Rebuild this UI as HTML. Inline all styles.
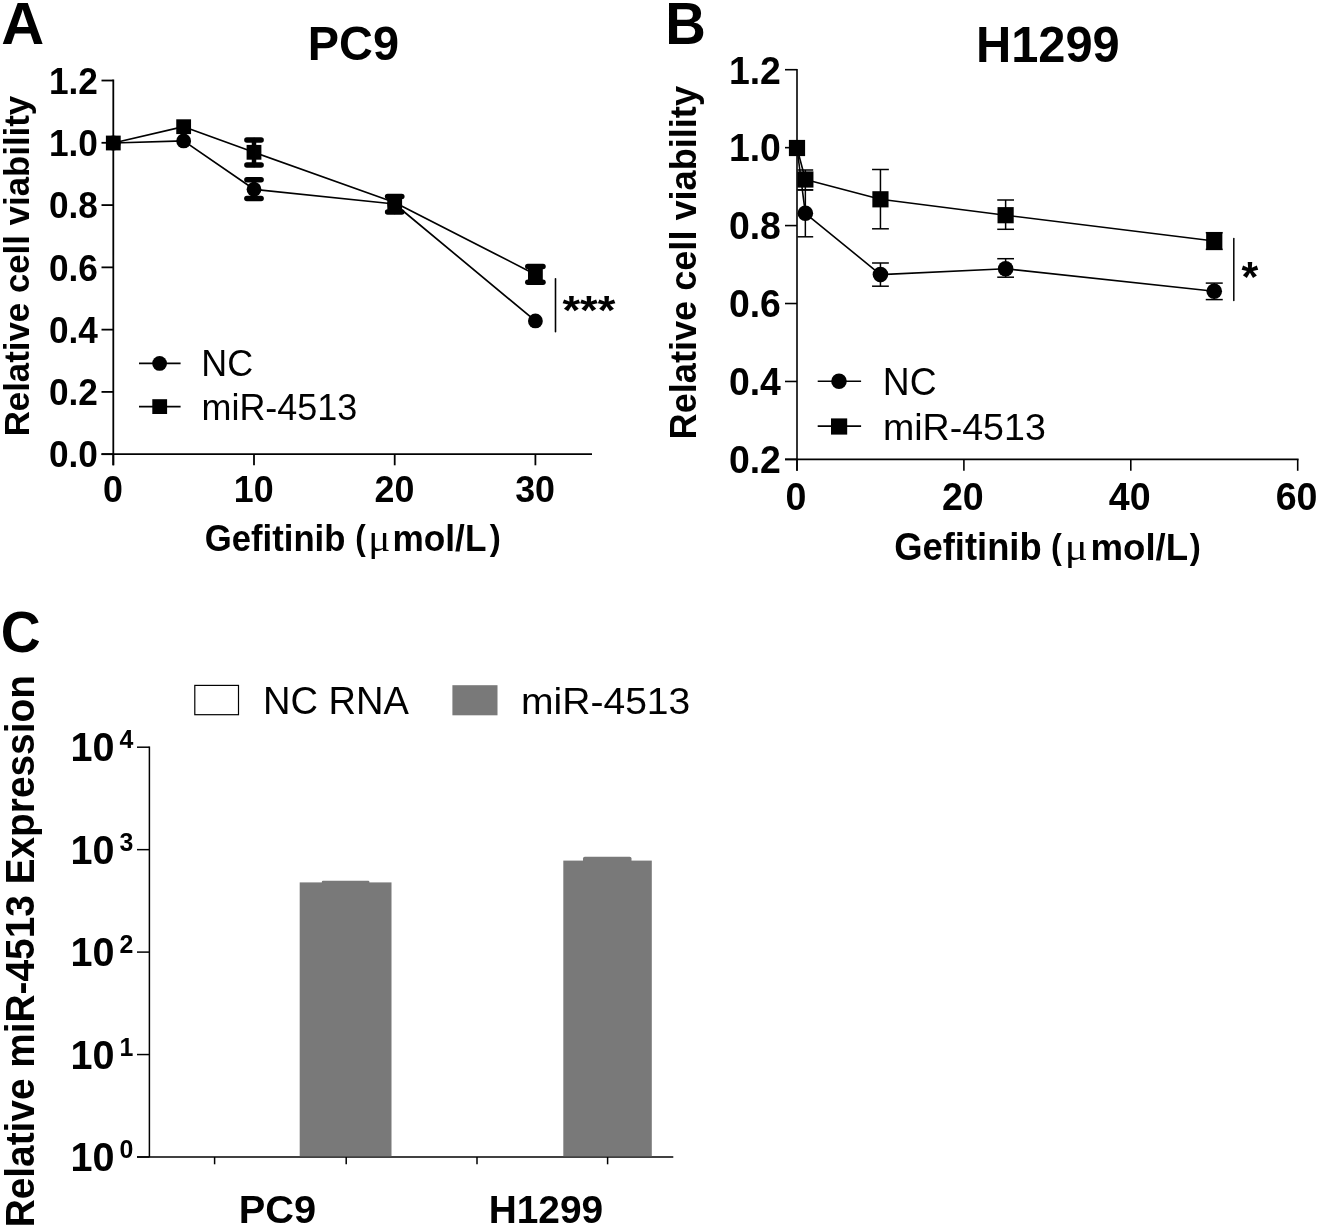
<!DOCTYPE html>
<html lang="en">
<head>
<meta charset="utf-8">
<title>miR-4513 gefitinib figure</title>
<style>
html,body{margin:0;padding:0;background:#fff;}
body{width:1320px;height:1228px;overflow:hidden;font-family:"Liberation Sans", sans-serif;}
svg{display:block;will-change:transform;opacity:0.999;}
svg text{font-family:"Liberation Sans", sans-serif;fill:#000;}
</style>
</head>
<body>
<svg width="1320" height="1228" viewBox="0 0 1320 1228">
<!-- Panel A -->
<text transform="translate(1.21,43.8) scale(1,1.01)" font-size="59.5" font-weight="bold" text-anchor="start" >A</text>
<text transform="translate(353.4,60.2) scale(1,1.035)" font-size="46.9" font-weight="bold" text-anchor="middle" >PC9</text>
<line x1="113.30" y1="79.62" x2="113.30" y2="465.30" stroke="#000" stroke-width="1.8" stroke-linecap="butt"/>
<line x1="101.50" y1="454.20" x2="592.00" y2="454.20" stroke="#000" stroke-width="1.8" stroke-linecap="butt"/>
<line x1="101.50" y1="454.20" x2="113.30" y2="454.20" stroke="#000" stroke-width="1.8" stroke-linecap="butt"/>
<text transform="translate(49.0,467.4) scale(1,1.05)" font-size="35.2" font-weight="bold" text-anchor="start" >0.0</text>
<line x1="101.50" y1="391.92" x2="113.30" y2="391.92" stroke="#000" stroke-width="1.8" stroke-linecap="butt"/>
<text transform="translate(49.0,405.12) scale(1,1.05)" font-size="35.2" font-weight="bold" text-anchor="start" >0.2</text>
<line x1="101.50" y1="329.64" x2="113.30" y2="329.64" stroke="#000" stroke-width="1.8" stroke-linecap="butt"/>
<text transform="translate(49.0,342.84) scale(1,1.05)" font-size="35.2" font-weight="bold" text-anchor="start" >0.4</text>
<line x1="101.50" y1="267.36" x2="113.30" y2="267.36" stroke="#000" stroke-width="1.8" stroke-linecap="butt"/>
<text transform="translate(49.0,280.56) scale(1,1.05)" font-size="35.2" font-weight="bold" text-anchor="start" >0.6</text>
<line x1="101.50" y1="205.08" x2="113.30" y2="205.08" stroke="#000" stroke-width="1.8" stroke-linecap="butt"/>
<text transform="translate(49.0,218.28) scale(1,1.05)" font-size="35.2" font-weight="bold" text-anchor="start" >0.8</text>
<line x1="101.50" y1="142.80" x2="113.30" y2="142.80" stroke="#000" stroke-width="1.8" stroke-linecap="butt"/>
<text transform="translate(49.0,156.0) scale(1,1.05)" font-size="35.2" font-weight="bold" text-anchor="start" >1.0</text>
<line x1="101.50" y1="80.52" x2="113.30" y2="80.52" stroke="#000" stroke-width="1.8" stroke-linecap="butt"/>
<text transform="translate(49.0,93.72) scale(1,1.05)" font-size="35.2" font-weight="bold" text-anchor="start" >1.2</text>
<line x1="113.30" y1="454.20" x2="113.30" y2="465.30" stroke="#000" stroke-width="1.8" stroke-linecap="butt"/>
<text transform="translate(113.0,502.0) scale(1,1.03)" font-size="35.8" font-weight="bold" text-anchor="middle" >0</text>
<line x1="254.00" y1="454.20" x2="254.00" y2="465.30" stroke="#000" stroke-width="1.8" stroke-linecap="butt"/>
<text transform="translate(253.7,502.0) scale(1,1.03)" font-size="35.8" font-weight="bold" text-anchor="middle" >10</text>
<line x1="394.70" y1="454.20" x2="394.70" y2="465.30" stroke="#000" stroke-width="1.8" stroke-linecap="butt"/>
<text transform="translate(394.4,502.0) scale(1,1.03)" font-size="35.8" font-weight="bold" text-anchor="middle" >20</text>
<line x1="535.40" y1="454.20" x2="535.40" y2="465.30" stroke="#000" stroke-width="1.8" stroke-linecap="butt"/>
<text transform="translate(535.1,502.0) scale(1,1.03)" font-size="35.8" font-weight="bold" text-anchor="middle" >30</text>
<text transform="translate(204.81,550.82) scale(1,1.084)" font-size="34.69" font-weight="bold">Gefitinib</text>
<text transform="translate(355.33,550.33) scale(1,1.117)" font-size="31.43" font-weight="bold">(</text>
<text transform="translate(368.3,550.6) scale(1,0.902)" font-size="41.19" font-weight="normal" style="font-family:'Liberation Serif',serif">μ</text>
<text transform="translate(392.54,550.6) scale(1,1.03)" font-size="35.21" font-weight="bold">mol/L</text>
<text transform="translate(489.8,550.33) scale(1,1.057)" font-size="33.21" font-weight="bold">)</text>
<text transform="translate(29.0,436.3) rotate(-90) scale(1,1.027)" font-size="34.82" font-weight="bold" text-anchor="start" >Relative cell viability</text>
<polyline points="113.30,143.00 183.65,140.90 254.00,189.30 394.70,204.00 535.40,320.90" fill="none" stroke="#000" stroke-width="1.7" stroke-linejoin="round"/>
<polyline points="113.30,143.00 183.65,126.70 254.00,152.30 394.70,202.50 535.40,274.40" fill="none" stroke="#000" stroke-width="1.7" stroke-linejoin="round"/>
<line x1="254.00" y1="179.80" x2="254.00" y2="198.50" stroke="#000" stroke-width="4.5" stroke-linecap="round"/>
<line x1="246.90" y1="179.80" x2="261.10" y2="179.80" stroke="#000" stroke-width="5.5" stroke-linecap="round"/>
<line x1="246.90" y1="198.50" x2="261.10" y2="198.50" stroke="#000" stroke-width="5.5" stroke-linecap="round"/>
<line x1="254.00" y1="139.90" x2="254.00" y2="165.10" stroke="#000" stroke-width="4.5" stroke-linecap="round"/>
<line x1="246.90" y1="139.90" x2="261.10" y2="139.90" stroke="#000" stroke-width="5.5" stroke-linecap="round"/>
<line x1="246.90" y1="165.10" x2="261.10" y2="165.10" stroke="#000" stroke-width="5.5" stroke-linecap="round"/>
<line x1="394.70" y1="196.40" x2="394.70" y2="211.90" stroke="#000" stroke-width="4.5" stroke-linecap="round"/>
<line x1="387.60" y1="196.40" x2="401.80" y2="196.40" stroke="#000" stroke-width="5.5" stroke-linecap="round"/>
<line x1="387.60" y1="211.90" x2="401.80" y2="211.90" stroke="#000" stroke-width="5.5" stroke-linecap="round"/>
<line x1="535.40" y1="266.60" x2="535.40" y2="282.20" stroke="#000" stroke-width="4.5" stroke-linecap="round"/>
<line x1="527.80" y1="266.60" x2="543.00" y2="266.60" stroke="#000" stroke-width="5.5" stroke-linecap="round"/>
<line x1="527.80" y1="282.20" x2="543.00" y2="282.20" stroke="#000" stroke-width="5.5" stroke-linecap="round"/>
<circle cx="113.30" cy="143.00" r="7.4" fill="#000"/>
<circle cx="183.65" cy="140.90" r="7.4" fill="#000"/>
<circle cx="254.00" cy="189.30" r="7.4" fill="#000"/>
<circle cx="394.70" cy="204.00" r="7.4" fill="#000"/>
<circle cx="535.40" cy="320.90" r="7.4" fill="#000"/>
<rect x="105.90" y="135.60" width="14.8" height="14.8" fill="#000"/>
<rect x="176.25" y="119.30" width="14.8" height="14.8" fill="#000"/>
<rect x="246.60" y="144.90" width="14.8" height="14.8" fill="#000"/>
<rect x="387.30" y="195.10" width="14.8" height="14.8" fill="#000"/>
<rect x="528.00" y="267.00" width="14.8" height="14.8" fill="#000"/>
<line x1="555.50" y1="278.80" x2="555.50" y2="331.80" stroke="#000" stroke-width="1.6" stroke-linecap="round"/>
<text transform="translate(562.4,324.3) scale(1,0.88)" font-size="45.43" font-weight="bold" text-anchor="start" >***</text>
<line x1="139.00" y1="363.40" x2="180.60" y2="363.40" stroke="#000" stroke-width="1.7" stroke-linecap="butt"/>
<circle cx="159.60" cy="363.40" r="7.4" fill="#000"/>
<line x1="139.00" y1="406.60" x2="180.60" y2="406.60" stroke="#000" stroke-width="1.7" stroke-linecap="butt"/>
<rect x="152.30" y="399.20" width="14.8" height="14.8" fill="#000"/>
<text transform="translate(201.3,376.2) scale(1,1.035)" font-size="35.9" font-weight="normal" text-anchor="start" >NC</text>
<text transform="translate(201.5,419.8) scale(1,1.045)" font-size="35.95" font-weight="normal" text-anchor="start" >miR-4513</text>
<!-- Panel B -->
<text transform="translate(665.16,43.6) scale(1,1.046)" font-size="56.23" font-weight="bold" text-anchor="start" >B</text>
<text transform="translate(1047.8,62.4) scale(1,1.03)" font-size="48.8" font-weight="bold" text-anchor="middle" >H1299</text>
<line x1="797.00" y1="68.90" x2="797.00" y2="470.80" stroke="#000" stroke-width="1.6" stroke-linecap="butt"/>
<line x1="785.00" y1="459.40" x2="1298.60" y2="459.40" stroke="#000" stroke-width="1.6" stroke-linecap="butt"/>
<line x1="785.00" y1="459.40" x2="797.00" y2="459.40" stroke="#000" stroke-width="1.6" stroke-linecap="butt"/>
<text transform="translate(728.9,473.2) scale(1,1.04)" font-size="37.4" font-weight="bold" text-anchor="start" >0.2</text>
<line x1="785.00" y1="381.46" x2="797.00" y2="381.46" stroke="#000" stroke-width="1.6" stroke-linecap="butt"/>
<text transform="translate(728.9,395.26) scale(1,1.04)" font-size="37.4" font-weight="bold" text-anchor="start" >0.4</text>
<line x1="785.00" y1="303.52" x2="797.00" y2="303.52" stroke="#000" stroke-width="1.6" stroke-linecap="butt"/>
<text transform="translate(728.9,317.32) scale(1,1.04)" font-size="37.4" font-weight="bold" text-anchor="start" >0.6</text>
<line x1="785.00" y1="225.58" x2="797.00" y2="225.58" stroke="#000" stroke-width="1.6" stroke-linecap="butt"/>
<text transform="translate(728.9,239.38) scale(1,1.04)" font-size="37.4" font-weight="bold" text-anchor="start" >0.8</text>
<line x1="785.00" y1="147.64" x2="797.00" y2="147.64" stroke="#000" stroke-width="1.6" stroke-linecap="butt"/>
<text transform="translate(728.9,161.44) scale(1,1.04)" font-size="37.4" font-weight="bold" text-anchor="start" >1.0</text>
<line x1="785.00" y1="69.70" x2="797.00" y2="69.70" stroke="#000" stroke-width="1.6" stroke-linecap="butt"/>
<text transform="translate(728.9,83.5) scale(1,1.04)" font-size="37.4" font-weight="bold" text-anchor="start" >1.2</text>
<line x1="797.00" y1="459.40" x2="797.00" y2="470.80" stroke="#000" stroke-width="1.6" stroke-linecap="butt"/>
<text transform="translate(795.9,509.5) scale(1,1.035)" font-size="37.6" font-weight="bold" text-anchor="middle" >0</text>
<line x1="963.90" y1="459.40" x2="963.90" y2="470.80" stroke="#000" stroke-width="1.6" stroke-linecap="butt"/>
<text transform="translate(962.8,509.5) scale(1,1.035)" font-size="37.6" font-weight="bold" text-anchor="middle" >20</text>
<line x1="1130.80" y1="459.40" x2="1130.80" y2="470.80" stroke="#000" stroke-width="1.6" stroke-linecap="butt"/>
<text transform="translate(1129.7,509.5) scale(1,1.035)" font-size="37.6" font-weight="bold" text-anchor="middle" >40</text>
<line x1="1297.70" y1="459.40" x2="1297.70" y2="470.80" stroke="#000" stroke-width="1.6" stroke-linecap="butt"/>
<text transform="translate(1296.6,509.5) scale(1,1.035)" font-size="37.6" font-weight="bold" text-anchor="middle" >60</text>
<text transform="translate(894.25,560.2) scale(1,1.089)" font-size="36.35" font-weight="bold">Gefitinib</text>
<text transform="translate(1050.88,559.45) scale(1,1.106)" font-size="32.5" font-weight="bold">(</text>
<text transform="translate(1064.77,559.8) scale(1,0.878)" font-size="42.86" font-weight="normal" style="font-family:'Liberation Serif',serif">μ</text>
<text transform="translate(1090.43,559.8) scale(1,1.02)" font-size="36.65" font-weight="bold">mol/L</text>
<text transform="translate(1189.8,559.45) scale(1,1.083)" font-size="33.21" font-weight="bold">)</text>
<text transform="translate(696.1,439.4) rotate(-90) scale(1,1.02)" font-size="36.13" font-weight="bold" text-anchor="start" >Relative cell viability</text>
<polyline points="797.00,148.00 805.35,213.30 880.45,274.60 1005.62,268.80 1214.25,291.30" fill="none" stroke="#000" stroke-width="1.6" stroke-linejoin="round"/>
<polyline points="797.00,148.00 805.35,179.50 880.45,199.30 1005.62,215.20 1214.25,241.00" fill="none" stroke="#000" stroke-width="1.6" stroke-linejoin="round"/>
<line x1="805.35" y1="189.80" x2="805.35" y2="236.80" stroke="#000" stroke-width="1.5" stroke-linecap="butt"/>
<line x1="797.50" y1="189.80" x2="813.20" y2="189.80" stroke="#000" stroke-width="1.5" stroke-linecap="butt"/>
<line x1="797.50" y1="236.80" x2="813.20" y2="236.80" stroke="#000" stroke-width="1.5" stroke-linecap="butt"/>
<line x1="880.45" y1="263.00" x2="880.45" y2="286.20" stroke="#000" stroke-width="1.5" stroke-linecap="butt"/>
<line x1="872.05" y1="263.00" x2="888.85" y2="263.00" stroke="#000" stroke-width="1.5" stroke-linecap="butt"/>
<line x1="872.05" y1="286.20" x2="888.85" y2="286.20" stroke="#000" stroke-width="1.5" stroke-linecap="butt"/>
<line x1="1005.62" y1="258.70" x2="1005.62" y2="277.20" stroke="#000" stroke-width="1.5" stroke-linecap="butt"/>
<line x1="997.23" y1="258.70" x2="1014.02" y2="258.70" stroke="#000" stroke-width="1.5" stroke-linecap="butt"/>
<line x1="997.23" y1="277.20" x2="1014.02" y2="277.20" stroke="#000" stroke-width="1.5" stroke-linecap="butt"/>
<line x1="1214.25" y1="283.10" x2="1214.25" y2="299.60" stroke="#000" stroke-width="1.5" stroke-linecap="butt"/>
<line x1="1205.75" y1="283.10" x2="1222.75" y2="283.10" stroke="#000" stroke-width="1.5" stroke-linecap="butt"/>
<line x1="1205.75" y1="299.60" x2="1222.75" y2="299.60" stroke="#000" stroke-width="1.5" stroke-linecap="butt"/>
<line x1="805.35" y1="170.00" x2="805.35" y2="190.00" stroke="#000" stroke-width="1.5" stroke-linecap="butt"/>
<line x1="797.50" y1="170.00" x2="813.20" y2="170.00" stroke="#000" stroke-width="1.5" stroke-linecap="butt"/>
<line x1="797.50" y1="190.00" x2="813.20" y2="190.00" stroke="#000" stroke-width="1.5" stroke-linecap="butt"/>
<line x1="880.45" y1="169.50" x2="880.45" y2="228.80" stroke="#000" stroke-width="1.5" stroke-linecap="butt"/>
<line x1="872.05" y1="169.50" x2="888.85" y2="169.50" stroke="#000" stroke-width="1.5" stroke-linecap="butt"/>
<line x1="872.05" y1="228.80" x2="888.85" y2="228.80" stroke="#000" stroke-width="1.5" stroke-linecap="butt"/>
<line x1="1005.62" y1="200.00" x2="1005.62" y2="229.30" stroke="#000" stroke-width="1.5" stroke-linecap="butt"/>
<line x1="997.23" y1="200.00" x2="1014.02" y2="200.00" stroke="#000" stroke-width="1.5" stroke-linecap="butt"/>
<line x1="997.23" y1="229.30" x2="1014.02" y2="229.30" stroke="#000" stroke-width="1.5" stroke-linecap="butt"/>
<line x1="1214.25" y1="232.70" x2="1214.25" y2="249.40" stroke="#000" stroke-width="1.5" stroke-linecap="butt"/>
<line x1="1205.75" y1="232.70" x2="1222.75" y2="232.70" stroke="#000" stroke-width="1.5" stroke-linecap="butt"/>
<line x1="1205.75" y1="249.40" x2="1222.75" y2="249.40" stroke="#000" stroke-width="1.5" stroke-linecap="butt"/>
<circle cx="797.00" cy="148.00" r="7.8" fill="#000"/>
<circle cx="805.35" cy="213.30" r="7.8" fill="#000"/>
<circle cx="880.45" cy="274.60" r="7.8" fill="#000"/>
<circle cx="1005.62" cy="268.80" r="7.8" fill="#000"/>
<circle cx="1214.25" cy="291.30" r="7.8" fill="#000"/>
<rect x="788.90" y="139.90" width="16.2" height="16.2" fill="#000"/>
<rect x="797.25" y="171.40" width="16.2" height="16.2" fill="#000"/>
<rect x="872.35" y="191.20" width="16.2" height="16.2" fill="#000"/>
<rect x="997.52" y="207.10" width="16.2" height="16.2" fill="#000"/>
<rect x="1206.15" y="232.90" width="16.2" height="16.2" fill="#000"/>
<line x1="1233.80" y1="238.50" x2="1233.80" y2="300.60" stroke="#000" stroke-width="1.5" stroke-linecap="round"/>
<text transform="translate(1241.4,291.08) scale(1,0.985)" font-size="43.08" font-weight="bold" text-anchor="start" >*</text>
<line x1="817.70" y1="381.20" x2="861.10" y2="381.20" stroke="#000" stroke-width="1.6" stroke-linecap="butt"/>
<circle cx="839.00" cy="381.20" r="7.8" fill="#000"/>
<line x1="817.70" y1="426.10" x2="861.10" y2="426.10" stroke="#000" stroke-width="1.6" stroke-linecap="butt"/>
<rect x="831.00" y="418.40" width="16.2" height="16.2" fill="#000"/>
<text transform="translate(882.8,395.3) scale(1,1.04)" font-size="37.2" font-weight="normal" text-anchor="start" >NC</text>
<text transform="translate(883.0,439.9)" font-size="37.56" font-weight="normal" text-anchor="start" >miR-4513</text>
<!-- Panel C -->
<text transform="translate(0.69,651.5) scale(1,1.04)" font-size="55.23" font-weight="bold" text-anchor="start" >C</text>
<line x1="149.40" y1="746.45" x2="149.40" y2="1157.00" stroke="#000" stroke-width="1.5" stroke-linecap="butt"/>
<line x1="137.00" y1="1157.00" x2="673.30" y2="1157.00" stroke="#000" stroke-width="1.5" stroke-linecap="butt"/>
<line x1="137.00" y1="1157.00" x2="149.40" y2="1157.00" stroke="#000" stroke-width="1.5" stroke-linecap="butt"/>
<text transform="translate(70.5,1171.0) scale(1,1.01)" font-size="39.6" font-weight="bold" text-anchor="start" >10</text>
<text transform="translate(126.5,1158.2) scale(1,1.036)" font-size="24.9" font-weight="bold" text-anchor="middle" >0</text>
<line x1="137.00" y1="1054.55" x2="149.40" y2="1054.55" stroke="#000" stroke-width="1.5" stroke-linecap="butt"/>
<text transform="translate(70.5,1068.55) scale(1,1.01)" font-size="39.6" font-weight="bold" text-anchor="start" >10</text>
<text transform="translate(126.5,1055.75) scale(1,1.036)" font-size="24.9" font-weight="bold" text-anchor="middle" >1</text>
<line x1="137.00" y1="952.10" x2="149.40" y2="952.10" stroke="#000" stroke-width="1.5" stroke-linecap="butt"/>
<text transform="translate(70.5,966.1) scale(1,1.01)" font-size="39.6" font-weight="bold" text-anchor="start" >10</text>
<text transform="translate(126.5,953.3) scale(1,1.036)" font-size="24.9" font-weight="bold" text-anchor="middle" >2</text>
<line x1="137.00" y1="849.65" x2="149.40" y2="849.65" stroke="#000" stroke-width="1.5" stroke-linecap="butt"/>
<text transform="translate(70.5,863.65) scale(1,1.01)" font-size="39.6" font-weight="bold" text-anchor="start" >10</text>
<text transform="translate(126.5,850.85) scale(1,1.036)" font-size="24.9" font-weight="bold" text-anchor="middle" >3</text>
<line x1="137.00" y1="747.20" x2="149.40" y2="747.20" stroke="#000" stroke-width="1.5" stroke-linecap="butt"/>
<text transform="translate(70.5,761.2) scale(1,1.01)" font-size="39.6" font-weight="bold" text-anchor="start" >10</text>
<text transform="translate(126.5,748.4) scale(1,1.036)" font-size="24.9" font-weight="bold" text-anchor="middle" >4</text>
<line x1="214.60" y1="1157.00" x2="214.60" y2="1164.30" stroke="#000" stroke-width="1.5" stroke-linecap="butt"/>
<line x1="346.20" y1="1157.00" x2="346.20" y2="1164.30" stroke="#000" stroke-width="1.5" stroke-linecap="butt"/>
<line x1="477.00" y1="1157.00" x2="477.00" y2="1164.30" stroke="#000" stroke-width="1.5" stroke-linecap="butt"/>
<line x1="607.60" y1="1157.00" x2="607.60" y2="1164.30" stroke="#000" stroke-width="1.5" stroke-linecap="butt"/>
<rect x="299.7" y="882.4" width="91.8" height="273.85" fill="#797979"/>
<rect x="321.8" y="880.7" width="47.6" height="4" rx="1.2" fill="#797979"/>
<rect x="563.3" y="860.6" width="88.5" height="295.65" fill="#797979"/>
<rect x="583" y="856.7" width="48.5" height="6" rx="1.8" fill="#797979"/>
<rect x="194.8" y="685.4" width="43.7" height="29.3" fill="#fff" stroke="#000" stroke-width="1.2"/>
<rect x="452.4" y="685.2" width="45.1" height="30.1" fill="#797979"/>
<text transform="translate(263.05,713.7) scale(1,1.012)" font-size="38.08" font-weight="normal" text-anchor="start" >NC RNA</text>
<text transform="translate(520.96,713.93) scale(1,0.96)" font-size="39.08" font-weight="normal" text-anchor="start" >miR-4513</text>
<text transform="translate(238.82,1222.8) scale(1,0.985)" font-size="39.78" font-weight="bold" text-anchor="start" >PC9</text>
<text transform="translate(488.68,1222.8)" font-size="38.87" font-weight="bold" text-anchor="start" >H1299</text>
<text transform="translate(34.2,1227.3) rotate(-90) scale(1,1.03)" font-size="38.82" font-weight="bold" text-anchor="start" >Relative miR-4513 Expression</text>
</svg>
</body>
</html>
